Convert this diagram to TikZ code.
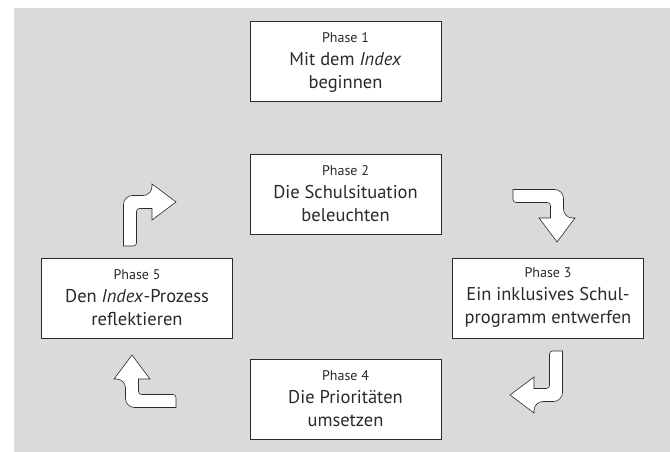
\documentclass[tikz,border=0pt]{standalone}
\usepackage{fontspec}
\setmainfont{PT Sans}
\usepackage{tikz}
\usetikzlibrary{calc}
\definecolor{bggray}{HTML}{D9DADC}
\definecolor{linegray}{HTML}{2B2B2B}
\definecolor{textgray}{HTML}{2A2A2A}
\tikzset{
	phasebox/.style={draw=linegray,line width=1pt,fill=white,text=textgray,minimum width=191pt,minimum height=80pt,align=center,font=\fontsize{18.5}{23}\selectfont},
	arrowshape/.style={draw=linegray,line width=0.6pt,fill=white},
	bentarrow/.pic={
		\draw[arrowshape] (-6.5,0) {[rounded corners=9pt] -- (-6.5,-50.5) -- (22,-50.5)} -- (22,-62) -- (46,-44) -- (22,-26) -- (22,-37.5) {[rounded corners=3pt] -- (6.5,-37.5) -- (6.5,0)} -- cycle;
	}
}
\newcommand{\phaselabel}[1]{{\fontsize{14}{23}\selectfont Phase #1}}

\begin{document}
\begin{tikzpicture}[x=1pt,y=-1pt]
	\useasboundingbox (0,0) rectangle (670,452);
	\fill[bggray] (14,8) rectangle (670,452);
	\node[phasebox] (phaseone) at (345.5,62) {\phaselabel{1}\\Mit dem \textit{Index}\\beginnen};
	\node[phasebox] (phasetwo) at (345.5,194) {\phaselabel{2}\\Die Schulsituation\\beleuchten};
	\node[phasebox] (phasethree) at (548,298) {\phaselabel{3}\\Ein inklusives Schul-\\programm entwerfen};
	\node[phasebox] (phasefour) at (345.5,399) {\phaselabel{4}\\Die Prioritäten\\umsetzen};
	\node[phasebox] (phasefive) at (137,298) {\phaselabel{5}\\Den \textit{Index}-Prozess\\reflektieren};
	\pic at (130,246) {bentarrow};
	\pic[rotate=-90] at (513,196) {bentarrow};
	\pic[rotate=180] at (556,351) {bentarrow};
	\pic[rotate=90] at (176,401) {bentarrow};
\end{tikzpicture}
\end{document}
